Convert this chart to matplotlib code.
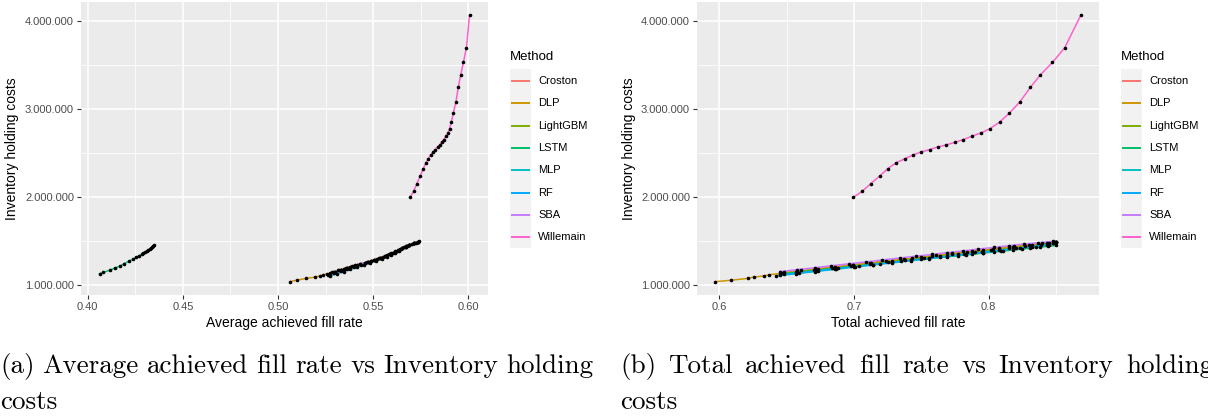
import numpy as np
import matplotlib.pyplot as plt
from matplotlib.lines import Line2D
from matplotlib.patches import Rectangle
from matplotlib.ticker import FixedLocator, FuncFormatter

W, H = 1208, 417

methods = ["Croston", "DLP", "LightGBM", "LSTM", "MLP", "RF", "SBA", "Willemain"]
colors = ["#F8766D", "#CD9600", "#7CAE00", "#00BE67", "#00BFC4", "#00A9FF", "#C77CFF", "#FF61CC"]

# holding costs in millions, average fill rate, total fill rate
croston_cost = [1.140, 1.162, 1.184, 1.206, 1.228, 1.250, 1.272, 1.294, 1.316, 1.336,
                1.356, 1.376, 1.396, 1.416, 1.436, 1.455, 1.472, 1.488]
croston_avg = [0.5285, 0.5315, 0.5345, 0.538, 0.5415, 0.5455, 0.549, 0.552, 0.555, 0.5575,
               0.5595, 0.5615, 0.5635, 0.5652, 0.567, 0.569, 0.5715, 0.5735]
croston_total = [0.648, 0.661, 0.673, 0.686, 0.699, 0.712, 0.724, 0.737, 0.750, 0.761,
                 0.773, 0.784, 0.796, 0.808, 0.819, 0.830, 0.840, 0.849]

dlp_cost = [1.035, 1.052, 1.072, 1.088, 1.100, 1.113, 1.132, 1.150, 1.172, 1.196, 1.222,
            1.248, 1.274, 1.300, 1.326, 1.352, 1.378, 1.404, 1.430, 1.453, 1.472, 1.489]
dlp_avg = [0.5062, 0.5098, 0.5149, 0.5196, 0.5220, 0.5238, 0.5275, 0.530, 0.533, 0.5365, 0.5405,
           0.5455, 0.549, 0.553, 0.556, 0.559, 0.5617, 0.5642, 0.5665, 0.569, 0.5715, 0.5737]
dlp_total = [0.597, 0.609, 0.621, 0.626, 0.633, 0.637, 0.647, 0.658, 0.670, 0.684, 0.699,
             0.713, 0.728, 0.743, 0.758, 0.773, 0.788, 0.803, 0.818, 0.832, 0.843, 0.850]

lgbm_cost = [1.120, 1.143, 1.166, 1.189, 1.212, 1.235, 1.258, 1.281, 1.304, 1.326,
             1.348, 1.370, 1.392, 1.414, 1.435, 1.455, 1.472, 1.487]
lgbm_avg = [0.5255, 0.529, 0.532, 0.5355, 0.539, 0.543, 0.547, 0.5505, 0.5535, 0.5562,
            0.5588, 0.5612, 0.5632, 0.565, 0.567, 0.569, 0.5715, 0.5735]
lgbm_total = [0.645, 0.658, 0.672, 0.685, 0.698, 0.712, 0.725, 0.738, 0.752, 0.764,
              0.777, 0.790, 0.802, 0.815, 0.827, 0.839, 0.845, 0.850]

lstm_cost = [1.125, 1.140, 1.165, 1.190, 1.215, 1.240, 1.265, 1.290, 1.310, 1.330,
             1.347, 1.360, 1.372, 1.383, 1.395, 1.406, 1.416, 1.427, 1.437, 1.446]
lstm_avg = [0.4062, 0.4082, 0.4115, 0.4145, 0.4172, 0.4192, 0.4215, 0.4237, 0.4254, 0.4270,
            0.4283, 0.4293, 0.4302, 0.4310, 0.4318, 0.4325, 0.4331, 0.4337, 0.4342, 0.4347]
lstm_total = [0.648, 0.657, 0.672, 0.688, 0.704, 0.719, 0.735, 0.750, 0.764, 0.777,
              0.788, 0.796, 0.804, 0.811, 0.818, 0.825, 0.831, 0.838, 0.844, 0.850]

mlp_cost = [1.100, 1.125, 1.150, 1.175, 1.200, 1.224, 1.248, 1.272, 1.296, 1.320,
            1.343, 1.366, 1.389, 1.412, 1.434, 1.455, 1.472, 1.486]
mlp_avg = [0.5275, 0.531, 0.5345, 0.538, 0.5415, 0.545, 0.5485, 0.5515, 0.5545, 0.557,
           0.5592, 0.5615, 0.5635, 0.5652, 0.567, 0.569, 0.5715, 0.5733]
mlp_total = [0.642, 0.657, 0.671, 0.686, 0.700, 0.714, 0.728, 0.742, 0.756, 0.769,
             0.783, 0.796, 0.809, 0.823, 0.835, 0.845, 0.849, 0.850]

rf_cost = [1.110, 1.134, 1.158, 1.182, 1.206, 1.230, 1.254, 1.278, 1.301, 1.324,
           1.347, 1.369, 1.391, 1.413, 1.434, 1.454, 1.471, 1.486]
rf_avg = [0.526, 0.5295, 0.533, 0.5365, 0.540, 0.5438, 0.5475, 0.551, 0.554, 0.5567,
          0.559, 0.5613, 0.5633, 0.5651, 0.567, 0.569, 0.5713, 0.5733]
rf_total = [0.645, 0.659, 0.673, 0.687, 0.701, 0.714, 0.728, 0.742, 0.756, 0.769,
            0.782, 0.795, 0.808, 0.820, 0.832, 0.843, 0.848, 0.850]

sba_cost = [1.150, 1.172, 1.194, 1.216, 1.238, 1.260, 1.282, 1.304, 1.325, 1.345,
            1.365, 1.385, 1.405, 1.425, 1.444, 1.462, 1.478, 1.492]
sba_avg = [0.530, 0.533, 0.5365, 0.540, 0.543, 0.5475, 0.5505, 0.5535, 0.5565, 0.5585,
           0.5605, 0.5625, 0.5645, 0.5662, 0.568, 0.5705, 0.5725, 0.5742]
sba_total = [0.645, 0.658, 0.671, 0.683, 0.696, 0.709, 0.721, 0.734, 0.746, 0.758,
             0.769, 0.781, 0.792, 0.804, 0.815, 0.826, 0.837, 0.848]

willemain_cost = [1.992, 2.064, 2.147, 2.234, 2.317, 2.385, 2.430, 2.475, 2.509, 2.536,
                  2.566, 2.589, 2.619, 2.649, 2.687, 2.725, 2.774, 2.849, 2.951, 3.079,
                  3.242, 3.385, 3.525, 3.694, 4.060]
willemain_avg = [0.5694, 0.5713, 0.5729, 0.5747, 0.5763, 0.5777, 0.5789, 0.5802, 0.5814, 0.5826,
                 0.5838, 0.5850, 0.5860, 0.5870, 0.5883, 0.5893, 0.5901, 0.5911, 0.5921, 0.5935,
                 0.5947, 0.5960, 0.5974, 0.5990, 0.6006]
willemain_total = [0.6994, 0.7063, 0.7124, 0.7190, 0.7250, 0.7313, 0.7376, 0.7440, 0.7500, 0.7563,
                   0.7626, 0.7687, 0.7753, 0.7813, 0.7876, 0.7945, 0.8011, 0.8083, 0.8155, 0.8233,
                   0.8310, 0.8385, 0.8474, 0.8566, 0.8684]

series = [
    (croston_cost, croston_avg, croston_total),
    (dlp_cost, dlp_avg, dlp_total),
    (lgbm_cost, lgbm_avg, lgbm_total),
    (lstm_cost, lstm_avg, lstm_total),
    (mlp_cost, mlp_avg, mlp_total),
    (rf_cost, rf_avg, rf_total),
    (sba_cost, sba_avg, sba_total),
    (willemain_cost, willemain_avg, willemain_total),
]

x_labels = ["Average achieved fill rate", "Total achieved fill rate"]
captions = [
    ["(a) Average achieved fill rate vs Inventory holding", "costs"],
    ["(b) Total achieved fill rate vs Inventory holding", "costs"],
]

plt.rcParams['font.family'] = ['Liberation Sans', 'DejaVu Sans']

fig = plt.figure(figsize=(W / 100, H / 100), dpi=100)


def fx(x):
    return x / W


def fy(y):
    return 1 - y / H


# panel boxes in pixels: left, right, top, bottom
panels = [(81, 488, 2, 295), (697, 1099, 2, 295)]
x_major = [[0.40, 0.45, 0.50, 0.55, 0.60], [0.6, 0.7, 0.8]]
x_minor = [[0.425, 0.475, 0.525, 0.575], [0.65, 0.75, 0.85]]
x_fmt = ["{:.2f}", "{:.1f}"]

cost_fmt = FuncFormatter(lambda v, p: f"{int(round(v)):,}".replace(",", "."))

for k in range(2):
    l, r, t, b = panels[k]
    ax = fig.add_axes([fx(l), fy(b), fx(r - l), (b - t) / H])
    ax.set_facecolor("#EBEBEB")
    for s in ax.spines.values():
        s.set_visible(False)

    for i, (cost, avg, tot) in enumerate(series):
        xs = np.array(avg if k == 0 else tot)
        ys = np.array(cost) * 1e6
        order = np.argsort(xs)
        ax.plot(xs[order], ys[order], color=colors[i], lw=1.1, zorder=3)
    for i, (cost, avg, tot) in enumerate(series):
        xs = np.array(avg if k == 0 else tot)
        ax.plot(xs, np.array(cost) * 1e6, "o", color="black", ms=2.6, mew=0, zorder=4)

    ax.margins(x=0.05, y=0.05)
    ax.xaxis.set_major_locator(FixedLocator(x_major[k]))
    ax.xaxis.set_minor_locator(FixedLocator(x_minor[k]))
    ax.xaxis.set_major_formatter(FuncFormatter(lambda v, p, f=x_fmt[k]: f.format(v)))
    ax.yaxis.set_major_locator(FixedLocator([1e6, 2e6, 3e6, 4e6]))
    ax.yaxis.set_minor_locator(FixedLocator([1.5e6, 2.5e6, 3.5e6]))
    ax.yaxis.set_major_formatter(cost_fmt)
    ax.grid(which="major", color="white", lw=1.1)
    ax.grid(which="minor", color="white", lw=0.55)
    ax.set_axisbelow(True)
    ax.tick_params(which="major", length=3, width=0.8, color="#333333",
                   labelsize=8, labelcolor="#4D4D4D", pad=2)
    ax.tick_params(which="minor", length=0)
    ax.set_xlabel(x_labels[k], fontsize=10, labelpad=3)
    ax.set_ylabel("Inventory holding costs", fontsize=10, labelpad=4)

    # legend
    lx = r + 22
    fig.text(fx(lx), fy(57), "Method", fontsize=9.5, va="center", ha="left")
    fig.patches.append(Rectangle((fx(lx), fy(248)), fx(21), (248 - 69) / H,
                                 transform=fig.transFigure, facecolor="#F2F2F2",
                                 edgecolor="none"))
    for i, m in enumerate(methods):
        yy = 81 + 22.3 * i
        fig.lines.append(Line2D([fx(lx + 2), fx(lx + 19)], [fy(yy), fy(yy)],
                                transform=fig.transFigure, color=colors[i], lw=1.4))
        fig.text(fx(lx + 28), fy(yy), m, fontsize=8, va="center", ha="left")

# captions, justified like the LaTeX source
renderer = fig.canvas.get_renderer()
cap_x = [(0, 593), (620, 1213)]
cap_size = 19.5
for k in range(2):
    x0, x1 = cap_x[k]
    words = captions[k][0].split()
    texts = [fig.text(0, fy(373), w, fontsize=cap_size, family="cmr10", va="baseline")
             for w in words]
    widths = [t.get_window_extent(renderer).width for t in texts]
    gap = max((x1 - x0 - sum(widths)) / (len(words) - 1), 3)
    x = x0
    for t, w in zip(texts, widths):
        t.set_x(fx(x))
        x += w + gap
    fig.text(fx(x0), fy(409), captions[k][1], fontsize=cap_size, family="cmr10", va="baseline")

fig.savefig("out.png", dpi=100)
